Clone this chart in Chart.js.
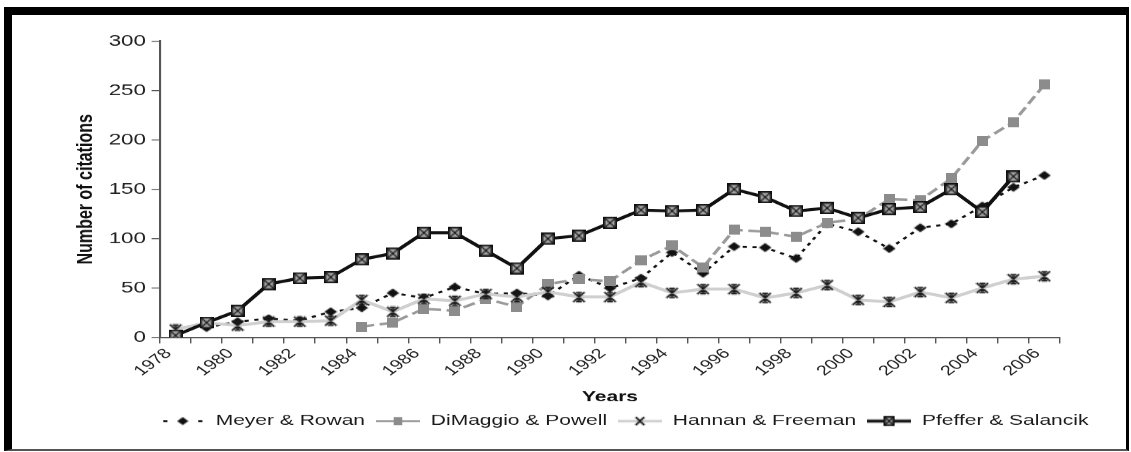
<!DOCTYPE html>
<html>
<head>
<meta charset="utf-8">
<script src="https://cdn.jsdelivr.net/npm/chart.js@4.4.1/dist/chart.umd.min.js"></script>
<style>
  html, body { margin: 0; padding: 0; background: #fff; overflow: hidden; width: 1131px; height: 452px; }
  #wrap { position: absolute; left: 0; top: 0; width: 808px; height: 452px; transform: scaleX(1.39975); transform-origin: 0 0; }
  #frame { position: absolute; left: 4px; top: 7px; width: 1114px; height: 434px; border-left: 8px solid #000; border-top: 8px solid #000; border-right: 3px solid #000; border-bottom: 2px solid #555; pointer-events: none; }
</style>
</head>
<body>
<div id="wrap"><canvas id="c"></canvas></div>
<div id="frame"></div>
<script>
// ---- data ----
const years = ['1978','1979','1980','1981','1982','1983','1984','1985','1986','1987','1988','1989','1990','1991','1992','1993','1994','1995','1996','1997','1998','1999','2000','2001','2002','2003','2004','2005','2006'];
const meyerRowan      = [null, 10, 16, 19, 17, 26, 30, 45, 40, 51, 44, 45, 42, 63, 50, 60, 86, 65, 92, 91, 80, 115, 107, 90, 111, 115, 133, 152, 164];
const dimaggioPowell  = [null, null, null, null, null, null, 11, 15, 29, 27, 39, 31, 54, 59, 57, 78, 93, 71, 109, 107, 102, 116, 120, 140, 139, 161, 199, 218, 256];
const hannanFreeman   = [8, 15, 12, 16, 16, 17, 38, 26, 39, 37, 44, 41, 46, 41, 41, 56, 45, 49, 49, 40, 45, 53, 38, 36, 46, 40, 50, 59, 62];
const pfefferSalancik = [2, 15, 27, 54, 60, 61, 79, 85, 106, 106, 88, 70, 100, 103, 116, 129, 128, 129, 150, 142, 128, 131, 121, 130, 132, 150, 127, 163, null];
const seriesNames = ['Meyer & Rowan', 'DiMaggio & Powell', 'Hannan & Freeman', 'Pfeffer & Salancik'];
const yTicks = [0, 50, 100, 150, 200, 250, 300];

// ---- marker images ----
function mk(w, h, draw) {
  const c = document.createElement('canvas');
  c.width = w; c.height = h;
  draw(c.getContext('2d'), w, h);
  return c;
}
function diamond(ctx, cx, cy, w, h) {
  ctx.beginPath();
  ctx.moveTo(cx, cy - h / 2); ctx.lineTo(cx + w / 2, cy); ctx.lineTo(cx, cy + h / 2); ctx.lineTo(cx - w / 2, cy);
  ctx.closePath(); ctx.fillStyle = '#111'; ctx.fill();
}
function starMark(ctx, cx, cy, w, h, withV) {
  ctx.strokeStyle = '#1a1a1a'; ctx.lineWidth = 1.5;
  ctx.beginPath();
  ctx.moveTo(cx - w / 2, cy - h / 2); ctx.lineTo(cx + w / 2, cy + h / 2);
  ctx.moveTo(cx + w / 2, cy - h / 2); ctx.lineTo(cx - w / 2, cy + h / 2);
  if (withV) {
    ctx.moveTo(cx, cy - h / 2); ctx.lineTo(cx, cy + h / 2);
    ctx.moveTo(cx - w / 4, cy - h / 2 + 0.6); ctx.lineTo(cx + w / 4, cy - h / 2 + 0.6);
    ctx.moveTo(cx - w / 4, cy + h / 2 - 0.6); ctx.lineTo(cx + w / 4, cy + h / 2 - 0.6);
  }
  ctx.stroke();
}
function boxX(ctx, cx, cy, w, h) {
  ctx.fillStyle = '#a5a5a5';
  ctx.fillRect(cx - w / 2, cy - h / 2, w, h);
  ctx.strokeStyle = '#111'; ctx.lineWidth = 1.6;
  ctx.strokeRect(cx - w / 2 + 0.8, cy - h / 2 + 0.8, w - 1.6, h - 1.6);
  ctx.lineWidth = 1.1;
  ctx.beginPath();
  ctx.moveTo(cx - w / 2 + 1, cy - h / 2 + 1); ctx.lineTo(cx + w / 2 - 1, cy + h / 2 - 1);
  ctx.moveTo(cx + w / 2 - 1, cy - h / 2 + 1); ctx.lineTo(cx - w / 2 + 1, cy + h / 2 - 1);
  ctx.stroke();
}
const mDiamond = mk(10, 10, (ctx) => diamond(ctx, 5, 5, 9, 9));
const mSquare  = mk(8, 10, (ctx) => { ctx.fillStyle = '#8c8c8c'; ctx.fillRect(0, 0, 8, 10); });
const mStar    = mk(10, 12, (ctx) => starMark(ctx, 5, 6, 8, 10, true));
const mBoxX    = mk(10, 12, (ctx) => boxX(ctx, 5, 6, 10, 12));

const LW = 32, LH = 14;
const legendIcons = [
  mk(LW, LH, (ctx) => { ctx.fillStyle = '#111'; ctx.fillRect(2, 6, 3, 2); ctx.fillRect(LW - 5, 6, 3, 2); diamond(ctx, LW / 2, 7, 8, 8); }),
  mk(LW, LH, (ctx) => { ctx.strokeStyle = '#9a9a9a'; ctx.lineWidth = 2; ctx.beginPath(); ctx.moveTo(0, 7); ctx.lineTo(LW, 7); ctx.stroke(); ctx.fillStyle = '#8c8c8c'; ctx.fillRect(LW / 2 - 3, 3, 6, 8); }),
  mk(LW, LH, (ctx) => { ctx.strokeStyle = '#cfcfcf'; ctx.lineWidth = 2.5; ctx.beginPath(); ctx.moveTo(0, 7); ctx.lineTo(LW, 7); ctx.stroke(); starMark(ctx, LW / 2, 7, 6, 8, false); }),
  mk(LW, LH, (ctx) => { ctx.strokeStyle = '#111'; ctx.lineWidth = 3; ctx.beginPath(); ctx.moveTo(0, 7); ctx.lineTo(LW, 7); ctx.stroke(); boxX(ctx, LW / 2, 7, 8, 10); })
];

const legendShift = {
  id: 'legendShift',
  afterLayout(chart) {
    const lg = chart.legend;
    if (!lg) return;
    const d = 446 - (lg.left + lg.right) / 2;
    lg.left += d; lg.right += d;
  }
};

Chart.defaults.font.family = "'Liberation Sans', Arial, sans-serif";

new Chart(document.getElementById('c'), {
  type: 'line',
  data: {
    labels: years,
    datasets: [
      { label: seriesNames[0], data: meyerRowan, borderColor: '#111', backgroundColor: '#111', borderWidth: 2, borderDash: [3, 4], pointStyle: mDiamond, pointRadius: 5, tension: 0, order: 3 },
      { label: seriesNames[1], data: dimaggioPowell, borderColor: '#9a9a9a', backgroundColor: '#8c8c8c', borderWidth: 2.5, borderDash: [9, 4], pointStyle: mSquare, pointRadius: 5, tension: 0, order: 2 },
      { label: seriesNames[2], data: hannanFreeman, borderColor: '#cfcfcf', backgroundColor: '#cfcfcf', borderWidth: 3, pointStyle: mStar, pointRadius: 5, tension: 0, order: 1 },
      { label: seriesNames[3], data: pfefferSalancik, borderColor: '#111', backgroundColor: '#111', borderWidth: 3, pointStyle: mBoxX, pointRadius: 5, tension: 0, order: 0 }
    ]
  },
  options: {
    responsive: true,
    maintainAspectRatio: false,
    animation: false,
    devicePixelRatio: 1.4,
    layout: { padding: { left: 51.8, right: 50.9, top: 41, bottom: 14 } },
    scales: {
      x: {
        type: 'category',
        offset: true,
        grid: { display: true, offset: true, drawOnChartArea: false, drawTicks: true, tickLength: 6, color: '#555', lineWidth: 1 },
        border: { display: true, color: '#555', width: 1.5 },
        ticks: {
          autoSkip: false, minRotation: 45, maxRotation: 45, labelOffset: -5, padding: 2,
          color: '#222', font: { size: 14 },
          callback: (v, i) => (i % 2 === 0 ? years[i] : '')
        },
        title: { display: true, text: 'Years', color: '#111', font: { size: 15, weight: 'bold' }, padding: 0 },
        afterFit: (s) => { s.height = 68.5; }
      },
      y: {
        min: yTicks[0], max: yTicks[yTicks.length - 1],
        afterBuildTicks: (s) => { s.ticks = yTicks.map(v => ({ value: v })); },
        grid: { display: true, drawOnChartArea: false, drawTicks: true, tickLength: 6, color: '#555', lineWidth: 1 },
        border: { display: true, color: '#555', width: 1.5 },
        ticks: { padding: 4, color: '#222', font: { size: 16 } },
        title: { display: true, text: 'Number of citations', color: '#111', font: { size: 16, weight: 'bold' }, padding: 0 },
        afterFit: (s) => { s.width = 62.5; }
      }
    },
    plugins: {
      tooltip: { enabled: false },
      legend: {
        position: 'bottom',
        labels: {
          usePointStyle: true, pointStyleWidth: LW, padding: 7.5, color: '#1a1a1a', font: { size: 15 },
          generateLabels: (chart) => chart.data.datasets.map((ds, i) => ({
            text: ds.label, pointStyle: legendIcons[i], fillStyle: 'rgba(0,0,0,0)', strokeStyle: 'rgba(0,0,0,0)', lineWidth: 0, hidden: false, datasetIndex: i, fontColor: '#1a1a1a'
          }))
        }
      }
    }
  },
  plugins: [legendShift]
});
</script>
</body>
</html>
